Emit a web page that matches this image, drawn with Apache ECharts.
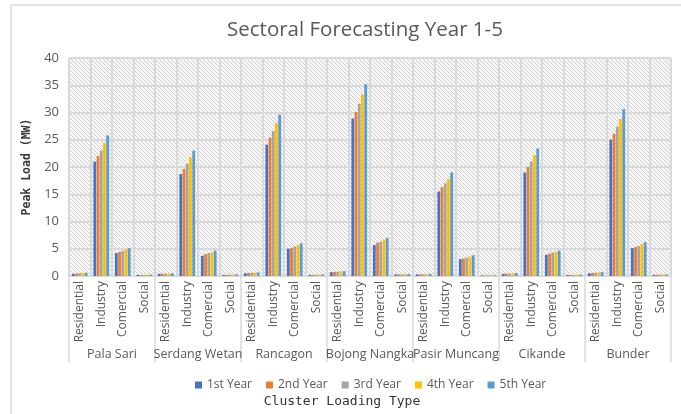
<!DOCTYPE html>
<html>
<head>
<meta charset="utf-8">
<script src="https://cdn.jsdelivr.net/npm/echarts@6/dist/echarts.min.js"></script>
<style>
  html, body { margin: 0; padding: 0; background: #ffffff; }
  #chart { width: 681px; height: 414px; }
</style>
</head>
<body>
<div id="chart"></div>
<script>
// Clusters and load types (two-level category axis)
const clusters = ['Pala Sari', 'Serdang Wetan', 'Rancagon', 'Bojong Nangka', 'Pasir Muncang', 'Cikande', 'Bunder'];
const loadTypes = ['Residential', 'Industry', 'Comercial', 'Social'];
const yearNames = ['1st Year', '2nd Year', '3rd Year', '4th Year', '5th Year'];
const yTicks = [0, 5, 10, 15, 20, 25, 30, 35, 40];

// Peak load (MW) per cluster, in order Residential, Industry, Comercial, Social
const year1 = [0.4, 21.0, 4.2, 0.2,  0.4, 18.7, 3.7, 0.2,  0.5, 24.1, 5.0, 0.2,  0.7, 28.9, 5.7, 0.3,  0.3, 15.5, 3.1, 0.1,  0.4, 19.0, 3.9, 0.2,  0.5, 25.0, 5.1, 0.2];
const year2 = [0.45, 22.0, 4.4, 0.2,  0.4, 19.6, 4.0, 0.2,  0.55, 25.4, 5.1, 0.2,  0.75, 30.1, 6.1, 0.3,  0.3, 16.3, 3.2, 0.1,  0.45, 20.0, 4.1, 0.2,  0.55, 26.1, 5.3, 0.25];
const year3 = [0.5, 23.0, 4.6, 0.2,  0.45, 20.6, 4.2, 0.25,  0.6, 26.6, 5.4, 0.25,  0.8, 31.6, 6.3, 0.3,  0.35, 17.0, 3.4, 0.15,  0.45, 21.0, 4.3, 0.2,  0.6, 27.4, 5.5, 0.25];
const year4 = [0.55, 24.4, 4.9, 0.25,  0.45, 21.8, 4.3, 0.25,  0.6, 28.1, 5.7, 0.25,  0.85, 33.3, 6.7, 0.35,  0.35, 17.8, 3.55, 0.15,  0.5, 22.2, 4.45, 0.25,  0.65, 28.8, 5.9, 0.3];
const year5 = [0.6, 25.8, 5.1, 0.25,  0.5, 23.0, 4.65, 0.3,  0.65, 29.6, 6.0, 0.3,  0.9, 35.2, 7.0, 0.35,  0.4, 19.0, 3.8, 0.15,  0.55, 23.4, 4.65, 0.25,  0.7, 30.6, 6.2, 0.3];
const yearValues = [year1, year2, year3, year4, year5];
const yearColors = ['#4472C4', '#ED7D31', '#A5A5A5', '#FFC000', '#5B9BD5'];

// Flat category list: each load type repeated per cluster
const categories = [];
clusters.forEach(() => loadTypes.forEach(t => categories.push(t)));

// Diagonal hatch fill for the plot area
function hatch() {
  const c = document.createElement('canvas');
  c.width = 8; c.height = 8;
  const g = c.getContext('2d');
  g.fillStyle = '#f7f7f7';
  g.fillRect(0, 0, 8, 8);
  g.strokeStyle = '#d0d0d0';
  g.lineWidth = 1;
  for (let k = -8; k <= 16; k += 4) {
    g.beginPath();
    g.moveTo(k, 0);
    g.lineTo(k + 8, 8);
    g.stroke();
  }
  return { image: c, repeat: 'repeat' };
}

const chart = echarts.init(document.getElementById('chart'), null, { renderer: 'canvas' });
const gray = '#595959';
const lineGray = '#d9d9d9';

chart.setOption({
  backgroundColor: '#ffffff',
  animation: false,
  title: {
    text: 'Sectoral Forecasting Year 1-5',
    left: 222,
    top: 15,
    textStyle: { fontFamily: 'Open Sans', fontSize: 20.5, fontWeight: 'normal', color: gray }
  },
  graphic: [{
    type: 'rect',
    shape: { x: 11, y: 5, width: 690, height: 420 },
    style: { fill: 'none', stroke: '#d9d9d9', lineWidth: 1.5 },
    silent: true
  }],
  legend: {
    data: yearNames,
    left: 190,
    top: 374,
    itemWidth: 7,
    itemHeight: 7,
    itemGap: 14,
    icon: 'rect',
    textStyle: { fontFamily: 'Open Sans', fontSize: 12, color: gray }
  },
  grid: {
    left: 69, right: 10, top: 58, bottom: 138,
    show: true,
    backgroundColor: hatch(),
    borderWidth: 0
  },
  xAxis: [{
    type: 'category',
    data: categories,
    gridIndex: 0,
    position: 'bottom',
    axisLine: { show: true, lineStyle: { color: lineGray, width: 1.5 } },
    axisTick: { show: false },
    splitLine: { show: true, interval: 0, lineStyle: { color: lineGray, width: 2 } },
    axisLabel: {
      interval: 0, rotate: 90, margin: 5,
      fontFamily: 'Open Sans', fontSize: 12, color: gray
    },
    name: 'Cluster Loading Type',
    nameLocation: 'middle',
    nameGap: 119,
    nameTextStyle: { fontFamily: 'DejaVu Sans Mono', fontSize: 13, color: '#333333', padding: [0, 56, 0, 0] }
  }, {
    type: 'category',
    data: clusters,
    gridIndex: 0,
    position: 'bottom',
    axisLine: { show: false },
    axisTick: { show: true, length: 86, inside: false, lineStyle: { color: lineGray, width: 1.5 } },
    splitLine: { show: false },
    axisLabel: {
      interval: 0, margin: 72,
      fontFamily: 'Open Sans', fontSize: 12.5, color: gray
    }
  }],
  yAxis: {
    type: 'value',
    min: yTicks[0],
    max: yTicks[yTicks.length - 1],
    interval: 5,
    axisLine: { show: false },
    axisTick: { show: false },
    splitLine: { show: true, lineStyle: { color: lineGray, width: 2 } },
    axisLabel: { fontFamily: 'Open Sans', fontSize: 13, color: gray, margin: 10 },
    name: 'Peak Load (MW)',
    nameLocation: 'middle',
    nameGap: 35,
    nameTextStyle: { fontFamily: 'DejaVu Sans Mono', fontSize: 11.5, fontWeight: 'bold', color: '#3a3a3a' }
  },
  series: yearNames.map((name, i) => ({
    name: name,
    type: 'bar',
    xAxisIndex: 0,
    data: yearValues[i],
    itemStyle: { color: yearColors[i] },
    barWidth: 2.8,
    barGap: '15%',
    barCategoryGap: '25%'
  }))
});
</script>
</body>
</html>
